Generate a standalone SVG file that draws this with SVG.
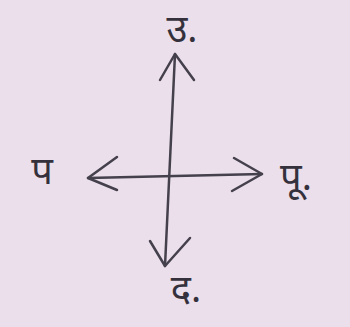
<svg xmlns="http://www.w3.org/2000/svg" width="350" height="327" viewBox="0 0 350 327">
<style>
.ln{stroke:#44404c;stroke-width:2.5;fill:none;stroke-linecap:round;stroke-linejoin:round}
.lb{font-family:"Noto Sans","Noto Sans CJK SC",sans-serif;font-size:38px;fill:#35313c;text-anchor:middle}
</style>
<rect width="350" height="327" fill="#ebdfeb"/>
<g id="connectors">
<path class="ln" d="M175,54 L165,266"/>
<path class="ln" d="M160,80 L175,54 L194,80"/>
<path class="ln" d="M150,241 L165,266 L190,238"/>
<path class="ln" d="M88,178 L262,174"/>
<path class="ln" d="M117,157 L88,178 L117,190"/>
<path class="ln" d="M234,158 L262,174 L232,191"/>
</g>
<g id="north"><text class="lb" x="182" y="42">उ.</text></g>
<g id="south"><text class="lb" x="186" y="302">द.</text></g>
<g id="west"><text class="lb" x="42" y="184">प</text></g>
<g id="east"><text class="lb" x="296" y="190">पू.</text></g>
</svg>
